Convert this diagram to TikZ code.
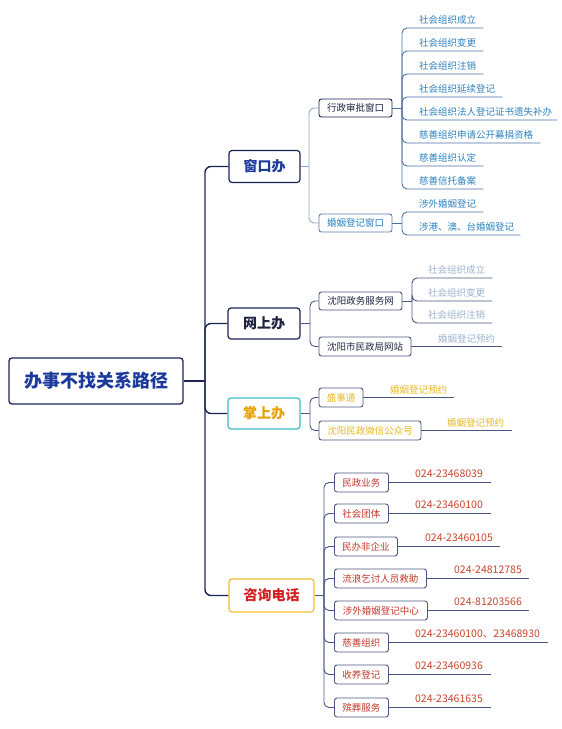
\documentclass[tikz,border=0pt]{standalone}
\usepackage{fontspec}
\setmainfont{Noto Sans CJK SC}
\definecolor{navy}{HTML}{1C2456}
\definecolor{rootblue}{HTML}{1B3A9C}
\definecolor{teal}{HTML}{3CBFC8}
\definecolor{goldb}{HTML}{F0C030}
\definecolor{orangeg}{HTML}{E8A000}
\definecolor{goldt}{HTML}{E8B820}
\definecolor{redt}{HTML}{D42020}
\definecolor{redl}{HTML}{C0392B}
\definecolor{phoner}{HTML}{C8442C}
\definecolor{slate}{HTML}{4A5580}
\definecolor{lightcon}{HTML}{8EA7CC}
\definecolor{midline}{HTML}{4F6FA8}
\definecolor{leafblue}{HTML}{2E82C0}
\definecolor{paleblue}{HTML}{9DB3D0}
\definecolor{hyblue}{HTML}{2A7FC0}
\definecolor{hyborder}{HTML}{5B7BB0}
\definecolor{darktext}{HTML}{1E2440}
\begin{document}
\begin{tikzpicture}[x=1pt,y=-1pt,
  rootbox/.style={draw=navy,line width=1.3pt,rounded corners=3pt,inner sep=0pt,
    minimum width=174pt,minimum height=46pt,text=rootblue,font=\fontsize{18}{21}\selectfont\bfseries},
  lonebox/.style={draw=navy,line width=1.2pt,rounded corners=3pt,inner sep=0pt,
    minimum height=32pt,font=\fontsize{14}{16}\selectfont\bfseries},
  ltwobox/.style={draw=slate,line width=0.9pt,rounded corners=2.5pt,inner sep=0pt,
    minimum height=19pt,font=\fontsize{9.5}{11}\selectfont},
  leaftext/.style={anchor=south west,inner xsep=0pt,inner ysep=4pt,text depth=0pt,
    align=left,font=\fontsize{9.5}{11}\selectfont},
  phonetext/.style={anchor=south west,inner xsep=0pt,inner ysep=4.5pt,text depth=0pt,
    align=left,text=phoner,font=\fontsize{10.5}{12}\selectfont},
  spineline/.style={draw=navy,line width=1.4pt,rounded corners=6pt},
  conline/.style={line width=0.9pt,rounded corners=5pt},
]
\useasboundingbox[fill=white] (0,0) rectangle (562,729);

% root and level one
\node[rootbox] (root) at (96,381) {办事不找关系路径};
\node[lonebox,minimum width=71pt,text=rootblue] (ck) at (264.5,166.5) {窗口办};
\node[lonebox,minimum width=72pt,text=darktext,minimum height=31pt] (ws) at (264,323.5) {网上办};
\node[lonebox,minimum width=72pt,draw=teal,text=orangeg,minimum height=31pt] (zs) at (264,413.5) {掌上办};
\node[lonebox,minimum width=85pt,draw=goldb,text=redt,minimum height=33pt] (zx) at (271.5,595.5) {咨询电话};

\coordinate (spine) at (205,381);
\draw[navy,line width=1.4pt] (root.east) -- (spine);
\foreach \n in {ck,ws,zs,zx} \draw[spineline] (spine) |- (\n.west);

% ---------- 窗口办 ----------
\node[ltwobox,draw=navy,text=darktext,minimum width=73pt,minimum height=18pt] (xz) at (355.5,108) {行政审批窗口};
\node[ltwobox,draw=hyborder,text=hyblue,minimum width=73pt,minimum height=18pt] (hy) at (355.5,223) {婚姻登记窗口};
\coordinate (jck) at (309,166.5);
\draw[lightcon,line width=0.9pt] (ck.east) -- (jck);
\draw[conline,lightcon] (jck) |- (xz.west);
\draw[conline,lightcon] (jck) |- (hy.west);

\coordinate (jxz) at (402,108);
\draw[midline,line width=0.9pt] (xz.east) -- (jxz);
\node[leaftext,text=leafblue,text width=64pt] (a1) at (419,28) {社会组织成立};
\node[leaftext,text=leafblue,text width=64pt] (a2) at (419,51) {社会组织变更};
\node[leaftext,text=leafblue,text width=64pt] (a3) at (419,74) {社会组织注销};
\node[leaftext,text=leafblue,text width=83pt] (a4) at (419,97) {社会组织延续登记};
\node[leaftext,text=leafblue,text width=138pt] (a5) at (419,120) {社会组织法人登记证书遗失补办};
\node[leaftext,text=leafblue,text width=121pt] (a6) at (419,143) {慈善组织申请公开募捐资格};
\node[leaftext,text=leafblue,text width=64pt] (a7) at (419,166) {慈善组织认定};
\node[leaftext,text=leafblue,text width=64pt] (a8) at (419,189) {慈善信托备案};
\foreach \n in {a1,a2,a3,a4,a5,a6,a7,a8}
  \draw[conline,midline] (jxz) |- (\n.south west) -- (\n.south east);

\coordinate (jhy) at (402,223);
\draw[midline,line width=0.9pt] (hy.east) -- (jhy);
\node[leaftext,text=leafblue,text width=64pt] (b1) at (419,212) {涉外婚姻登记};
\node[leaftext,text=leafblue,text width=101pt] (b2) at (419,235) {涉港、澳、台婚姻登记};
\foreach \n in {b1,b2}
  \draw[conline,midline] (jhy) |- (\n.south west) -- (\n.south east);

% ---------- 网上办 ----------
\node[ltwobox,text=darktext,minimum width=83pt,minimum height=18pt] (zw) at (360.5,301) {沈阳政务服务网};
\node[ltwobox,text=darktext,minimum width=92pt] (mz) at (365,346.5) {沈阳市民政局网站};
\coordinate (jws) at (310,323.5);
\draw[slate,line width=0.9pt] (ws.east) -- (jws);
\draw[conline,slate] (jws) |- (zw.west);
\draw[conline,slate] (jws) |- (mz.west);

\coordinate (jzw) at (412,301);
\draw[slate,line width=0.9pt] (zw.east) -- (jzw);
\node[leaftext,text=paleblue,text width=64pt] (c1) at (428,278) {社会组织成立};
\node[leaftext,text=paleblue,text width=64pt] (c2) at (428,301) {社会组织变更};
\node[leaftext,text=paleblue,text width=64pt] (c3) at (428,323) {社会组织注销};
\foreach \n in {c1,c2,c3}
  \draw[conline,slate] (jzw) |- (\n.south west) -- (\n.south east);

\node[leaftext,text=paleblue,text width=64pt] (d1) at (438,346.5) {婚姻登记预约};
\draw[slate,line width=0.9pt] (mz.east) -- (d1.south west) -- (d1.south east);

% ---------- 掌上办 ----------
\node[ltwobox,text=goldt,minimum width=44pt] (ss) at (341,397.5) {盛事通};
\node[ltwobox,text=goldt,minimum width=102pt] (wx) at (370,430.5) {沈阳民政微信公众号};
\coordinate (jzs) at (310,413.5);
\draw[slate,line width=0.9pt] (zs.east) -- (jzs);
\draw[conline,slate] (jzs) |- (ss.west);
\draw[conline,slate] (jzs) |- (wx.west);
\node[leaftext,text=goldt,text width=64pt] (e1) at (390,397.5) {婚姻登记预约};
\node[leaftext,text=goldt,text width=65pt] (e2) at (447,430.5) {婚姻登记预约};
\draw[slate,line width=0.9pt] (ss.east) -- (e1.south west) -- (e1.south east);
\draw[slate,line width=0.9pt] (wx.east) -- (e2.south west) -- (e2.south east);

% ---------- 咨询电话 ----------
\coordinate (jzx) at (324,595.5);
\draw[slate,line width=0.9pt] (zx.east) -- (jzx);
\node[ltwobox,text=redl,minimum width=54pt,anchor=west] (f1) at (334,482.5) {民政业务};
\node[ltwobox,text=redl,minimum width=54pt,anchor=west] (f2) at (334,513.5) {社会团体};
\node[ltwobox,text=redl,minimum width=63pt,anchor=west] (f3) at (334,546.5) {民办非企业};
\node[ltwobox,text=redl,minimum width=92pt,anchor=west] (f4) at (334,578.5) {流浪乞讨人员救助};
\node[ltwobox,text=redl,minimum width=93pt,anchor=west] (f5) at (334,610.5) {涉外婚姻登记中心};
\node[ltwobox,text=redl,minimum width=54pt,anchor=west] (f6) at (334,642.5) {慈善组织};
\node[ltwobox,text=redl,minimum width=54pt,anchor=west] (f7) at (334,674.5) {收养登记};
\node[ltwobox,text=redl,minimum width=54pt,anchor=west] (f8) at (334,707.5) {殡葬服务};
\foreach \n in {f1,f2,f3,f4,f5,f6,f7,f8}
  \draw[conline,slate] (jzx) |- (\n.west);

\node[phonetext,text width=76pt] (p1) at ([xshift=26pt]f1.east) {024-23468039};
\node[phonetext,text width=76pt] (p2) at ([xshift=26pt]f2.east) {024-23460100};
\node[phonetext,text width=75pt] (p3) at ([xshift=27pt]f3.east) {024-23460105};
\node[phonetext,text width=75pt] (p4) at ([xshift=27pt]f4.east) {024-24812785};
\node[phonetext,text width=75pt] (p5) at ([xshift=26pt]f5.east) {024-81203566};
\node[phonetext,text width=133pt] (p6) at ([xshift=26pt]f6.east) {024-23460100、23468930};
\node[phonetext,text width=76pt] (p7) at ([xshift=26pt]f7.east) {024-23460936};
\node[phonetext,text width=76pt] (p8) at ([xshift=26pt]f8.east) {024-23461635};
\foreach \b/\p in {f1/p1,f2/p2,f3/p3,f4/p4,f5/p5,f6/p6,f7/p7,f8/p8}
  \draw[slate,line width=0.9pt] (\b.east) -- (\p.south west) -- (\p.south east);
\end{tikzpicture}
\end{document}
